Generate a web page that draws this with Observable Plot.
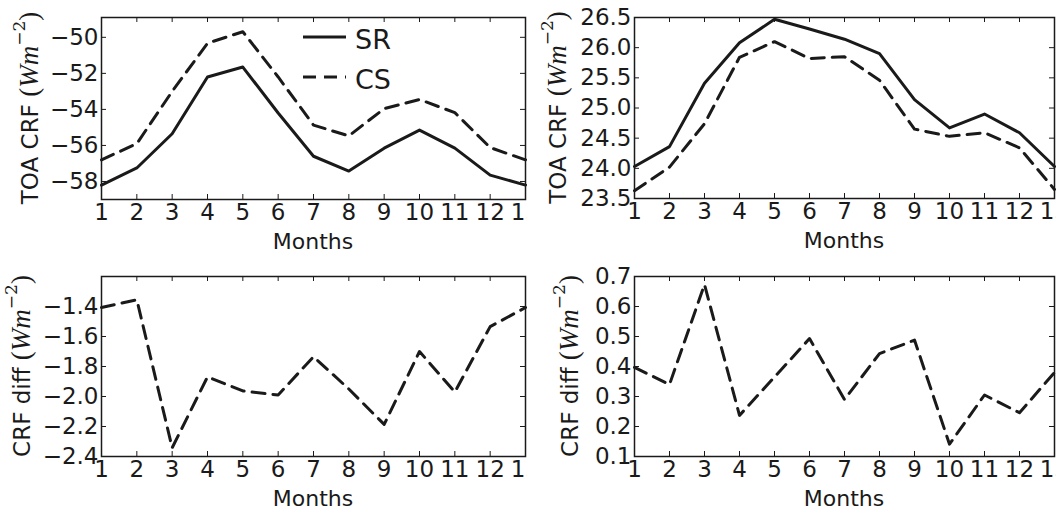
<!DOCTYPE html>
<html>
<head>
<meta charset="utf-8">
<script src="https://cdn.jsdelivr.net/npm/d3@7"></script>
<script src="https://cdn.jsdelivr.net/npm/@observablehq/plot@0.6"></script>
<style>
  body { margin: 0; background: #fff; }
  #chart { position: relative; width: 1056px; height: 510px; overflow: hidden; background: #fff; }
  .panel { position: absolute; overflow: hidden; }
  .panel svg { display: block; overflow: hidden; }
</style>
</head>
<body>
<div id="chart"></div>
<script>
// ---- data ----
const months = [1, 2, 3, 4, 5, 6, 7, 8, 9, 10, 11, 12, 13];
const monthTickLabels = ["1", "2", "3", "4", "5", "6", "7", "8", "9", "10", "11", "12", "13"];
const seriesNames = ["SR", "CS"];

// top-left: TOA CRF (shortwave), SR solid, CS dashed
const swSR = [-58.2, -57.25, -55.35, -52.2, -51.65, -54.2, -56.6, -57.42, -56.15, -55.15, -56.15, -57.65, -58.2];
const swCS = [-56.8, -55.9, -53.0, -50.33, -49.69, -52.2, -54.87, -55.47, -53.96, -53.45, -54.18, -56.12, -56.8];
// top-right: TOA CRF (longwave)
const lwSR = [24.03, 24.36, 25.41, 26.08, 26.47, 26.31, 26.14, 25.90, 25.14, 24.67, 24.90, 24.59, 24.03];
const lwCS = [23.63, 24.02, 24.74, 25.84, 26.10, 25.82, 25.85, 25.46, 24.65, 24.53, 24.59, 24.34, 23.65];
// bottom: CRF differences
const swDiff = [-1.407, -1.355, -2.342, -1.869, -1.963, -1.99, -1.735, -1.95, -2.186, -1.70, -1.97, -1.534, -1.407];
const lwDiff = [0.397, 0.34, 0.673, 0.237, 0.365, 0.493, 0.29, 0.443, 0.488, 0.141, 0.305, 0.246, 0.38];

// y ticks
const ticksTL = [-58, -56, -54, -52, -50];
const ticksTR = [23.5, 24.0, 24.5, 25.0, 25.5, 26.0, 26.5];
const ticksBL = [-2.4, -2.2, -2.0, -1.8, -1.6, -1.4];
const ticksBR = [0.1, 0.2, 0.3, 0.4, 0.5, 0.6, 0.7];

const INK = "#1a1a1a";
const FONT = "DejaVu Sans";
const DASH = "13,8";
const TICK_FS = 23;

function panel(opts) {
  const {left, top, width, height, ml, mr, mt, mb, yDomain, yTicks, yFormat, series, ylabelPrefix, ylabelX, legend} = opts;
  const innerW = width - ml - mr, innerH = height - mt - mb;
  const marks = [
    Plot.frame({stroke: INK, strokeWidth: 1.5}),
    // inward ticks on all four sides
    Plot.tickX(months, {x: d => d, stroke: INK, strokeWidth: 1, insetTop: innerH - 5}),
    Plot.tickX(months, {x: d => d, stroke: INK, strokeWidth: 1, insetBottom: innerH - 5}),
    Plot.tickY(yTicks, {y: d => d, stroke: INK, strokeWidth: 1, insetRight: innerW - 5}),
    Plot.tickY(yTicks, {y: d => d, stroke: INK, strokeWidth: 1, insetLeft: innerW - 5}),
    Plot.axisX(months, {tickSize: 0, tickPadding: 4, fontSize: TICK_FS, fill: INK, label: null,
      tickFormat: d => monthTickLabels[months.indexOf(d)]}),
    Plot.axisY(yTicks, {tickSize: 0, tickPadding: 3, fontSize: TICK_FS, fill: INK, label: null, tickFormat: yFormat})
  ];
  for (const s of series) {
    const rows = months.map((m, i) => ({month: m, value: s.values[i]}));
    marks.push(Plot.line(rows, {x: "month", y: "value", stroke: INK, strokeWidth: 3,
      strokeDasharray: s.dash ? DASH : null, strokeLinejoin: "round"}));
  }
  const svgEl = Plot.plot({
    width, height,
    marginLeft: ml, marginRight: mr, marginTop: mt, marginBottom: mb,
    x: {domain: [1, 13]},
    y: {domain: yDomain},
    style: {fontFamily: FONT, color: INK, background: "#fff", overflow: "hidden"},
    marks
  });
  const div = document.createElement("div");
  div.className = "panel";
  div.style.left = left + "px";
  div.style.top = top + "px";
  div.style.width = width + "px";
  div.style.height = height + "px";
  div.appendChild(svgEl);
  document.getElementById("chart").appendChild(div);

  const svg = d3.select(svgEl);
  // x label
  svg.append("text")
    .attr("x", ml + innerW / 2)
    .attr("y", mt + innerH + 50)
    .attr("text-anchor", "middle")
    .attr("fill", INK)
    .style("font-family", FONT)
    .style("font-size", "22px")
    .text("Months");
  // y label with math part
  const yl = svg.append("text")
    .attr("transform", `translate(${ylabelX},${mt + innerH / 2}) rotate(-90)`)
    .attr("text-anchor", "middle")
    .attr("dy", "0.35em")
    .attr("fill", INK)
    .style("font-family", FONT)
    .style("font-size", "23px");
  yl.append("tspan").text(ylabelPrefix + " ");
  yl.append("tspan").style("font-family", "Liberation Serif").style("font-size", "27px").text("(");
  yl.append("tspan").style("font-family", "Liberation Serif").style("font-style", "italic").style("font-size", "27px").text("Wm");
  yl.append("tspan").style("font-family", "DejaVu Serif").style("font-size", "17px").attr("dy", "-0.75em").text("\u22122");
  yl.append("tspan").style("font-family", "Liberation Serif").style("font-size", "27px").attr("dy", "0.47em").text(")");

  if (legend) {
    const g = svg.append("g");
    legend.forEach((l, i) => {
      const y = 37 + i * 40;
      g.append("line").attr("x1", 303).attr("x2", 346).attr("y1", y).attr("y2", y)
        .attr("stroke", INK).attr("stroke-width", 3)
        .attr("stroke-dasharray", l.dash ? DASH : null);
      g.append("text").attr("x", 373).attr("y", y + 2).attr("dy", "0.36em")
        .attr("fill", INK).style("font-family", FONT).style("font-size", "27px").text(l.name);
    });
  }
}

const fmtInt = d3.format("d");
const fmt1 = d3.format(".1f");

panel({left: 0, top: 0, width: 527, height: 255, ml: 101, mr: 2, mt: 17, mb: 56,
  yDomain: [-59, -48.9], yTicks: ticksTL, yFormat: fmtInt,
  series: [{values: swSR, dash: false}, {values: swCS, dash: true}],
  ylabelPrefix: "TOA CRF", ylabelX: 30,
  legend: [{name: seriesNames[0], dash: false}, {name: seriesNames[1], dash: true}]});

panel({left: 527, top: 0, width: 529, height: 255, ml: 107, mr: 2, mt: 17, mb: 57,
  yDomain: [23.5, 26.5], yTicks: ticksTR, yFormat: fmt1,
  series: [{values: lwSR, dash: false}, {values: lwCS, dash: true}],
  ylabelPrefix: "TOA CRF", ylabelX: 31});

panel({left: 0, top: 255, width: 527, height: 255, ml: 101, mr: 2, mt: 21, mb: 54,
  yDomain: [-2.4, -1.2], yTicks: ticksBL, yFormat: fmt1,
  series: [{values: swDiff, dash: true}],
  ylabelPrefix: "CRF diff", ylabelX: 22});

panel({left: 527, top: 255, width: 529, height: 255, ml: 107, mr: 2, mt: 21, mb: 54,
  yDomain: [0.1, 0.7], yTicks: ticksBR, yFormat: fmt1,
  series: [{values: lwDiff, dash: true}],
  ylabelPrefix: "CRF diff", ylabelX: 43});
</script>
</body>
</html>
